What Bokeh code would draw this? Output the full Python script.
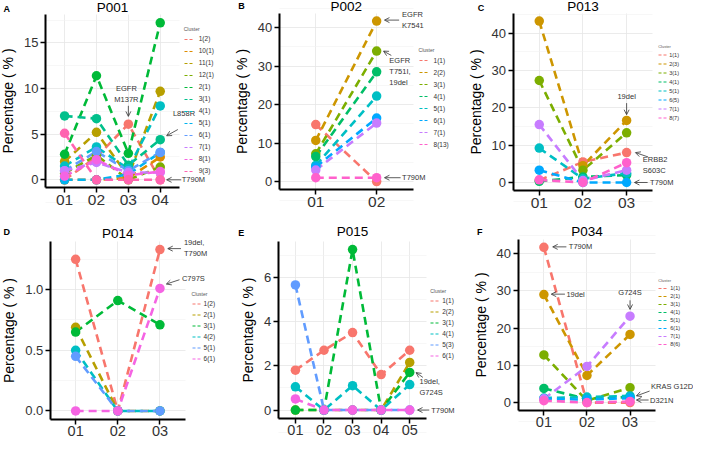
from bokeh.plotting import figure
from bokeh.layouts import column, row
from bokeh.models import (Range1d, Legend, LegendItem, Label, Arrow, OpenHead,
                          FixedTicker, PrintfTickFormatter)
from bokeh.embed import file_html
from bokeh.resources import INLINE

FONT = "Liberation Sans"

# ---------------- data ----------------
p001_times = ["01", "02", "03", "04"]
p001_clusters = ["1(2)", "10(1)", "11(1)", "12(1)", "2(1)", "3(1)", "4(1)", "5(1)",
                 "6(1)", "7(1)", "8(1)", "9(3)"]
p001_values = [
    [0.0, 2.5, 6.1, 0.0],
    [0.0, 0.0, 0.2, 2.5],
    [2.0, 5.2, 0.4, 9.7],
    [0.7, 2.7, 0.0, 1.4],
    [2.8, 11.4, 2.9, 17.2],
    [7.0, 6.7, 1.6, 4.4],
    [1.5, 3.6, 1.2, 8.1],
    [0.0, 0.0, 0.6, 3.0],
    [1.0, 3.1, 1.0, 3.0],
    [1.0, 1.9, 0.8, 0.8],
    [0.4, 2.2, 0.5, 0.9],
    [5.1, 0.0, 0.0, 0.0],
]

p002_times = ["01", "02"]
p002_clusters = ["1(1)", "2(2)", "3(1)", "4(1)", "5(1)", "6(1)", "7(1)", "8(13)"]
p002_values = [
    [14.8, 0.0],
    [10.7, 41.7],
    [7.2, 33.9],
    [6.5, 28.5],
    [4.2, 22.2],
    [3.8, 16.5],
    [3.0, 15.2],
    [1.0, 1.0],
]

p013_times = ["01", "02", "03"]
p013_clusters = ["1(1)", "2(3)", "3(1)", "4(1)", "5(1)", "6(5)", "7(1)", "8(7)"]
p013_values = [
    [0.6, 5.5, 8.0],
    [43.2, 4.5, 16.6],
    [27.3, 3.3, 13.3],
    [0.3, 1.5, 2.0],
    [9.2, 1.0, 2.5],
    [3.3, 0.0, 0.0],
    [15.5, 0.5, 3.3],
    [0.7, 0.0, 5.3],
]

p014_times = ["01", "02", "03"]
p014_clusters = ["1(2)", "2(1)", "3(1)", "4(2)", "5(1)", "6(1)"]
p014_values = [
    [1.25, 0.0, 1.33],
    [0.69, 0.0, 0.0],
    [0.65, 0.91, 0.71],
    [0.50, 0.0, 0.0],
    [0.45, 0.0, 0.0],
    [0.0, 0.0, 1.01],
]

p015_times = ["01", "02", "03", "04", "05"]
p015_clusters = ["1(1)", "2(2)", "3(1)", "4(1)", "5(3)", "6(1)"]
p015_values = [
    [1.8, 2.7, 3.5, 1.6, 2.7],
    [0.0, 0.0, 0.0, 0.0, 2.15],
    [0.0, 0.0, 7.25, 0.0, 1.7],
    [1.05, 0.0, 1.1, 0.0, 1.15],
    [5.65, 0.0, 0.0, 0.0, 0.0],
    [0.5, 0.0, 0.0, 0.0, 0.0],
]

p034_times = ["01", "02", "03"]
p034_clusters = ["1(1)", "2(1)", "3(1)", "4(1)", "5(1)", "6(1)", "7(1)", "8(6)"]
p034_values = [
    [41.7, 0.0, 0.0],
    [29.0, 7.3, 18.3],
    [12.8, 0.5, 4.0],
    [3.8, 1.0, 1.5],
    [1.2, 1.5, 1.8],
    [1.0, 0.8, 1.2],
    [1.0, 9.7, 23.2],
    [0.5, 0.0, 0.3],
]

# ---------------- styles / layout ----------------
HUE6 = ["#F8766D", "#B79F00", "#00BA38", "#00BFC4", "#619CFF", "#F564E3"]
HUE8 = ["#F8766D", "#CD9600", "#7CAE00", "#00BE67", "#00BFC4", "#00A9FF", "#C77CFF", "#FF61CC"]
HUE12 = ["#F8766D", "#DE8C00", "#B79F00", "#7CAE00", "#00BA38", "#00C08B", "#00BFC4",
         "#00B4F0", "#619CFF", "#C77CFF", "#F564E3", "#FF64B0"]

SX = 693.0 / 709.0
SY = 438.0 / 454.0
INK = "#333333"


def panel(letter, title, times, clusters, values, palette, step, fmt, spec, notes):
    col0, row0, W, H = spec["box"]
    L, R, T, B = spec["rect"]
    lx = lambda xr: (xr - col0) * SX
    ly = lambda yr: (yr - row0) * SY
    Lp, Rp, Tp, Bp = lx(L), lx(R), ly(T), ly(B)

    n = len(times)
    xpos = [i + 1 for i in range(n)]
    x0, x1 = 0.4, n + 0.6
    ymax = max(max(v) for v in values)
    ymin = min(0, min(min(v) for v in values))
    pad = (ymax - ymin) * 0.05
    y0, y1 = ymin - pad, ymax + pad

    kx = (Rp - Lp) / (x1 - x0)
    ky = (Bp - Tp) / (y1 - y0)
    xr = Range1d(x0 - Lp / kx, x1 + (W - Rp) / kx)
    yr = Range1d(y0 - (H - Bp) / ky, y1 + Tp / ky)

    p = figure(width=W, height=H, x_range=xr, y_range=yr, output_backend="svg",
               toolbar_location=None, title=None, min_border=0,
               min_border_left=0, min_border_right=0, min_border_top=0,
               min_border_bottom=0)
    p.outline_line_color = None
    p.background_fill_color = "white"
    p.border_fill_color = "white"

    major = []
    t = 0.0
    while t <= y1 + 1e-9:
        major.append(round(t, 6))
        t += step
    minor = [round(m + step / 2, 6) for m in [major[0] - step] + major]

    yg = p.ygrid[0]
    xg = p.xgrid[0]
    yg.ticker = FixedTicker(ticks=major, minor_ticks=minor)
    xg.ticker = FixedTicker(ticks=xpos)
    yg.bounds = (y0, y1)
    xg.bounds = (x0, x1)
    yg.grid_line_color = "#E6E6E6"
    yg.grid_line_width = 0.8
    yg.minor_grid_line_color = "#F1F1F1"
    yg.minor_grid_line_width = 0.6
    xg.grid_line_color = "#E6E6E6"
    xg.grid_line_width = 0.8
    if "cross_bounds" in yg.properties():
        yg.cross_bounds = (x0, x1)
        xg.cross_bounds = (y0, y1)

    xa = p.xaxis[0]
    ya = p.yaxis[0]
    xa.fixed_location = y0
    ya.fixed_location = x0
    xa.bounds = (x0, x1)
    ya.bounds = (y0, y1)
    xa.ticker = FixedTicker(ticks=xpos)
    xa.major_label_overrides = {xp: lab for xp, lab in zip(xpos, times)}
    ya.ticker = FixedTicker(ticks=major)
    ya.formatter = PrintfTickFormatter(format=fmt)
    ya.axis_label = "Percentage ( % )"
    for ax in (xa, ya):
        ax.axis_line_width = 2
        ax.axis_line_color = "black"
        ax.major_tick_line_width = 1.5
        ax.major_tick_line_color = "black"
        ax.major_tick_out = 5
        ax.major_tick_in = 0
        ax.minor_tick_line_color = None
        ax.major_label_text_font = FONT
        ax.major_label_text_color = INK
        ax.axis_label_text_font = FONT
        ax.axis_label_text_font_size = "14px"
        ax.axis_label_text_font_style = "normal"
        ax.axis_label_text_color = "black"
        ax.axis_label_standoff = 5
    xa.major_label_text_font_size = spec.get("xfs", "15.5px")
    xa.major_label_standoff = 2
    ya.major_label_text_font_size = "13px"
    ya.major_label_standoff = 2

    # series: lines below points
    for i, vals in enumerate(values):
        p.line(x=xpos, y=vals, line_color=palette[i], line_width=2.6, line_dash="8 5")
    for i, vals in enumerate(values):
        p.scatter(x=xpos, y=vals, size=9.5, fill_color=palette[i], line_color=None)

    # legend (keys are thin dashed lines; one-point helper lines draw nothing in the plot)
    t_y, f_y, stp, g_x, tx_x, lfs = spec["legend"]
    stp_l = int(round(stp * SY))
    items = []
    for i, c in enumerate(clusters):
        r = p.line(x=xpos[:1], y=values[i][:1], line_color=palette[i], line_width=1.1,
                   line_dash="3 2")
        items.append(LegendItem(label=c, renderers=[r]))
    title_h = 6.0
    top_l = ly(t_y) - title_h / 2
    bot_l = top_l + title_h + 1 + stp_l * len(clusters)
    gw = 10 if lfs >= 6 else 9
    stand = int(max(1, round(lx(tx_x) - lx(g_x) - gw)))
    leg = Legend(items=items, title="Cluster", location=(lx(g_x), H - bot_l),
                 margin=0, padding=0, spacing=0, glyph_width=gw, glyph_height=stp_l,
                 label_height=stp_l, label_standoff=stand,
                 label_text_font=FONT, label_text_font_size="%gpx" % lfs,
                 label_text_color=INK, title_text_font=FONT,
                 title_text_font_size="%gpx" % (lfs - 1.5),
                 title_text_font_style="normal", title_text_color="#555555",
                 title_standoff=1, background_fill_alpha=0, border_line_color=None)
    p.add_layout(leg)

    # title and panel letter
    tx, ty = spec["title"]
    p.add_layout(Label(x=lx(tx), y=H - ly(ty), x_units="screen", y_units="screen",
                       text=title, text_align="center", text_baseline="middle",
                       text_font=FONT, text_font_size="13.5px", text_color="black"))
    ltx, lty = spec["letter"]
    p.add_layout(Label(x=lx(ltx), y=H - ly(lty), x_units="screen", y_units="screen",
                       text=letter, text_align="left", text_baseline="middle",
                       text_font=FONT, text_font_size="9px", text_font_style="bold",
                       text_color="black"))

    # annotations anchored on data points (offsets in reference pixels)
    ux = SX / kx
    uy = SY / ky
    for (cl, tm, text, head, tail, tpos, align) in notes:
        xi = xpos[times.index(tm)]
        yv = values[clusters.index(cl)][times.index(tm)]
        p.add_layout(Arrow(x_start=xi + tail[0] * ux, y_start=yv + tail[1] * uy,
                           x_end=xi + head[0] * ux, y_end=yv + head[1] * uy,
                           end=OpenHead(size=5, line_width=0.8, line_color=INK),
                           line_color=INK, line_width=0.8))
        p.add_layout(Label(x=xi + tpos[0] * ux, y=yv + tpos[1] * uy, text=text,
                           text_align=align, text_baseline="middle", text_font=FONT,
                           text_font_size="7.5px", text_color=INK))
    return p


pa = panel("A", "P001", p001_times, p001_clusters, p001_values, HUE12, 5, "%d",
           dict(box=(0, 0, 225, 214), rect=(46, 183, 15, 194), title=(114.5, 7.5),
                letter=(3, 9), legend=(30, 40, 12.6, 188, 203, 6.5)),
           [("1(2)", "03", "EGFR\nM137R", (0, 8), (0, 19), (-2, 31), "center"),
            ("3(1)", "04", "L858R", (6.5, 4), (18, 10.5), (13, 27), "left"),
            ("9(3)", "04", "T790M", (6.5, 0), (21.5, 0), (22, 0), "left")])
pb = panel("B", "P002", p002_times, p002_clusters, p002_values, HUE8, 10, "%d",
           dict(box=(230, 0, 225, 214), rect=(285, 422, 13, 196), title=(353.5, 6),
                letter=(243, 6), legend=(52, 63, 12.1, 428, 443, 6.5)),
           [("2(2)", "02", "EGFR\nK7541", (8, 1), (23, 1), (26, 1), "left"),
            ("3(1)", "02", "EGFR\nT751I,\n19del", (7, 0), (15, -4.5), (13, -21), "left"),
            ("8(13)", "02", "T790M", (8, 0), (24.5, 0), (26, 0), "left")])
pc = panel("C", "P013", p013_times, p013_clusters, p013_values, HUE8, 10, "%d",
           dict(box=(460, 0, 243, 214), rect=(524, 667, 13, 197), title=(595.5, 6),
                letter=(488, 7.5), legend=(48, 64, 8.9, 673, 684, 5.5)),
           [("2(3)", "03", "19del", (0, 6), (0, 18), (0, 25), "center"),
            ("1(1)", "03", "ERBB2\nS603C", (9, 0), (22, -4.5), (16.5, -13), "left"),
            ("6(5)", "03", "T790M", (8, 0), (21.5, 0), (24, 0), "left")])
pd_ = panel("D", "P014", p014_times, p014_clusters, p014_values, HUE6, 0.5, "%.1f",
            dict(box=(0, 222, 225, 224), rect=(51, 189, 250, 434), title=(120, 242),
                 letter=(3, 240), legend=(305, 315, 11.5, 196, 208, 6.5), xfs="14.5px"),
            [("1(2)", "03", "19del,\nT790M", (8, 1), (21.5, 1), (24.5, 1.5), "left"),
             ("6(1)", "03", "C797S", (6.5, 4.5), (20, 9), (22.5, 10.5), "left")])
pe = panel("E", "P015", p015_times, p015_clusters, p015_values, HUE6, 2, "%d",
           dict(box=(230, 222, 230, 224), rect=(284, 436, 250, 433), title=(360, 240),
                letter=(243, 241), legend=(302, 313, 11.8, 440, 452, 6.5), xfs="14.5px"),
           [("2(2)", "05", "19del,\nG724S", (6.5, -10.5), (13.5, -15.5), (10, -25.5), "left"),
            ("6(1)", "05", "T790M", (8, 0), (20, 0), (22, 0), "left")])
pf = panel("F", "P034", p034_times, p034_clusters, p034_values, HUE8, 10, "%d",
           dict(box=(465, 222, 238, 224), rect=(529, 670, 248, 425), title=(599.5, 240),
                letter=(487, 240), legend=(290, 300, 8.8, 673, 685, 5.5), xfs="14.5px"),
           [("1(1)", "01", "T790M", (9, 0.5), (23, 0.5), (25.5, 0.5), "left"),
            ("2(1)", "01", "19del", (7.5, 0.5), (21.5, 0.5), (23, 0.5), "left"),
            ("7(1)", "03", "G724S", (0, 7), (0, 16.5), (0, 25), "center"),
            ("5(1)", "03", "KRAS G12D", (6.5, 0), (20, 5), (21.5, 10), "left"),
            ("8(6)", "03", "D321N", (6.5, 1.5), (19, 1.5), (20.5, 1.5), "left")])

layout = column(row(pa, pb, pc), row(pd_, pe, pf))

with open("out.html", "w") as f:
    f.write(file_html(layout, INLINE))
